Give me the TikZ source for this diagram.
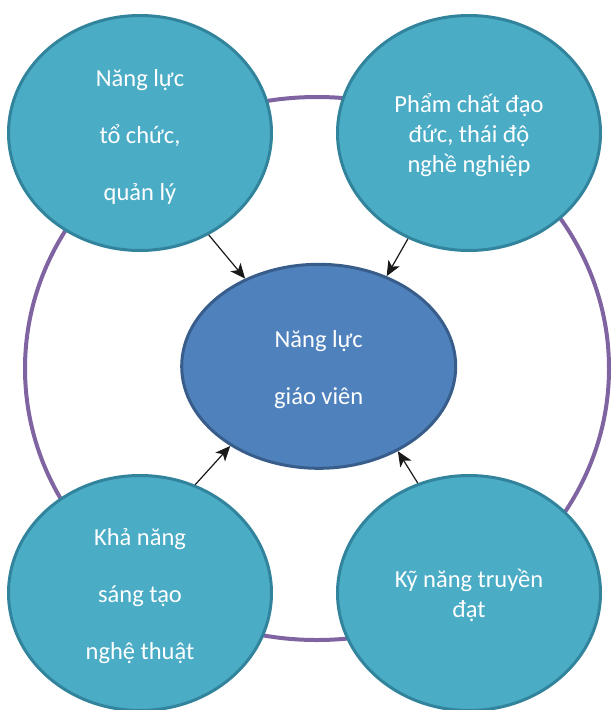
\documentclass[tikz,border=0pt]{standalone}
\usepackage{fontspec}
\setmainfont{Carlito}
\usetikzlibrary{shapes.geometric,arrows.meta}
\definecolor{tealfill}{HTML}{4BACC6}
\definecolor{tealline}{HTML}{31849B}
\definecolor{bluefill}{HTML}{4F81BD}
\definecolor{blueline}{HTML}{385D8A}
\definecolor{ringcol}{HTML}{8064A2}
\newcommand\toppad{\rule{0pt}{24pt}}
\tikzset{
  bubble/.style={ellipse, draw=tealline, fill=tealfill, line width=3pt,
    minimum width=263pt, minimum height=235pt, inner sep=0pt,
    text=white, align=center},
  core/.style={ellipse, draw=blueline, fill=bluefill, line width=3pt,
    minimum width=274pt, minimum height=204pt, inner sep=0pt,
    text=white, align=center},
  wide/.style={font=\fontsize{24.5}{57}\selectfont},
  tight/.style={font=\fontsize{24.5}{30}\selectfont},
  ring/.style={draw=ringcol, line width=4pt},
  link/.style={draw=black!90, line width=1.2pt, -{Stealth[length=15pt,width=13pt,inset=4pt]}}
}
\begin{document}
\begin{tikzpicture}[x=1pt,y=-1pt]
\useasboundingbox (0,0) rectangle (611,710);
\coordinate (ringc) at (317,368.5);
\draw[ring] (ringc) ellipse [x radius=292pt, y radius=271.5pt];
\node[core, wide] (cen) at (318.7,366.3) {\toppad Năng lực\\giáo viên};
\node[bubble, wide] (tl) at (140,133) {\toppad Năng lực\\tổ chức,\\quản lý};
\node[bubble, tight] (tr) at (469,133) {\toppad Phẩm chất đạo\\đức, thái độ\\nghề nghiệp};
\node[bubble, wide] (bl) at (140,593) {\toppad Khả năng\\sáng tạo\\nghệ thuật};
\node[bubble, tight] (br) at (469,593) {\toppad Kỹ năng truyền\\đạt};
\draw[link] (tl.-56.8) -- (cen.130.4);
\draw[link] (tr.240.9) -- (cen.53.6);
\draw[link] (bl.63.2) -- (cen.222.1);
\draw[link] (br.115.3) -- (cen.-47.5);
\end{tikzpicture}
\end{document}
